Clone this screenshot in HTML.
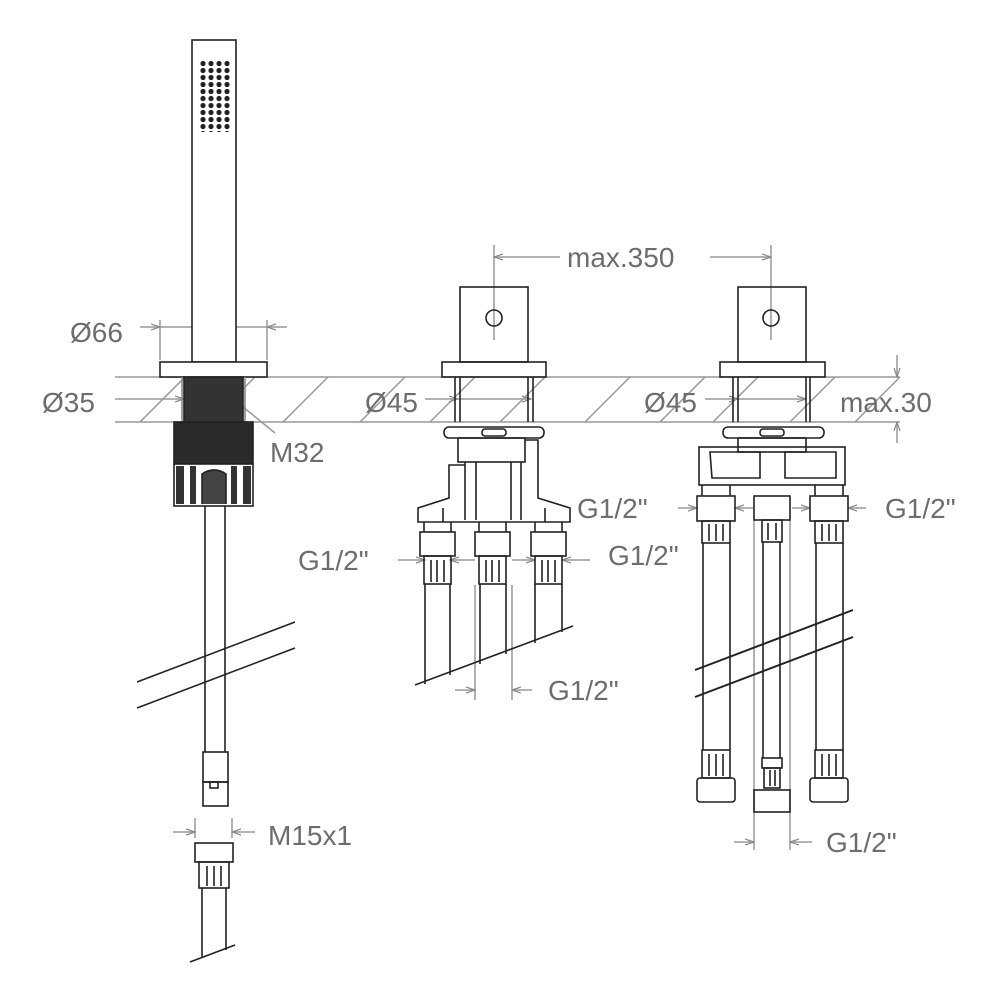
<!DOCTYPE html>
<html><head><meta charset="utf-8"><style>
html,body{margin:0;padding:0;background:#fff;}
svg{display:block;}
text{font-family:"Liberation Sans",sans-serif;font-size:28px;fill:#6d6d6d;}
</style></head><body>
<svg width="1000" height="1003" viewBox="0 0 1000 1003" xmlns="http://www.w3.org/2000/svg">
<defs>
<marker id="a" markerWidth="10" markerHeight="8" refX="9" refY="4" orient="auto" markerUnits="userSpaceOnUse"><path d="M0,1 L9,4 L0,7" fill="none" stroke="#888" stroke-width="1.2"/></marker>
<pattern id="dots" x="199" y="60" width="8" height="7" patternUnits="userSpaceOnUse"><circle cx="4" cy="3.5" r="2.6" fill="#222"/></pattern>
</defs>
<g stroke="#999" stroke-width="1.5" fill="none">
<line x1="115" y1="377" x2="900" y2="377"/>
<line x1="115" y1="422" x2="900" y2="422"/>
<line x1="140" y1="422" x2="185" y2="377"/>
<line x1="210" y1="422" x2="255" y2="377"/>
<line x1="283" y1="422" x2="328" y2="377"/>
<line x1="360" y1="422" x2="405" y2="377"/>
<line x1="430" y1="422" x2="475" y2="377"/>
<line x1="500" y1="422" x2="545" y2="377"/>
<line x1="585" y1="422" x2="630" y2="377"/>
<line x1="660" y1="422" x2="705" y2="377"/>
<line x1="713" y1="422" x2="758" y2="377"/>
<line x1="790" y1="422" x2="835" y2="377"/>
<line x1="855" y1="422" x2="900" y2="377"/>
<line x1="160" y1="320" x2="160" y2="360"/><line x1="267" y1="320" x2="267" y2="360"/>
<line x1="140" y1="327" x2="160" y2="327" marker-end="url(#a)"/><line x1="287" y1="327" x2="267" y2="327" marker-end="url(#a)"/>
<line x1="160" y1="327" x2="267" y2="327"/>
<line x1="115" y1="399" x2="184" y2="399" marker-end="url(#a)"/><line x1="243" y1="399" x2="184" y2="399"/>
<line x1="237" y1="402" x2="275" y2="433"/>
<line x1="425" y1="399" x2="458" y2="399" marker-end="url(#a)"/><line x1="458" y1="399" x2="531" y2="399" marker-end="url(#a)"/>
<line x1="705" y1="399" x2="738" y2="399" marker-end="url(#a)"/><line x1="738" y1="399" x2="806" y2="399" marker-end="url(#a)"/>
<line x1="494" y1="245" x2="494" y2="340"/><line x1="771" y1="245" x2="771" y2="340"/>
<line x1="560" y1="257" x2="494" y2="257" marker-end="url(#a)"/><line x1="710" y1="257" x2="771" y2="257" marker-end="url(#a)"/>
<line x1="897" y1="355" x2="897" y2="377" marker-end="url(#a)"/><line x1="897" y1="443" x2="897" y2="422" marker-end="url(#a)"/>
<line x1="398" y1="560" x2="425" y2="560" marker-end="url(#a)"/><line x1="475" y1="560" x2="450" y2="560" marker-end="url(#a)"/>
<line x1="512" y1="560" x2="535" y2="560" marker-end="url(#a)"/><line x1="590" y1="560" x2="562" y2="560" marker-end="url(#a)"/>
<line x1="475" y1="585" x2="475" y2="700"/><line x1="512" y1="585" x2="512" y2="700"/>
<line x1="455" y1="690" x2="475" y2="690" marker-end="url(#a)"/><line x1="532" y1="690" x2="512" y2="690" marker-end="url(#a)"/>
<line x1="678" y1="508" x2="697" y2="508" marker-end="url(#a)"/><line x1="753" y1="508" x2="735" y2="508" marker-end="url(#a)"/>
<line x1="792" y1="508" x2="810" y2="508" marker-end="url(#a)"/><line x1="866" y1="508" x2="848" y2="508" marker-end="url(#a)"/>
<line x1="754" y1="520" x2="754" y2="850"/><line x1="790" y1="520" x2="790" y2="850"/>
<line x1="734" y1="842" x2="754" y2="842" marker-end="url(#a)"/><line x1="812" y1="842" x2="790" y2="842" marker-end="url(#a)"/>
<line x1="195" y1="818" x2="195" y2="838"/><line x1="232" y1="818" x2="232" y2="838"/>
<line x1="173" y1="832" x2="195" y2="832" marker-end="url(#a)"/><line x1="255" y1="832" x2="232" y2="832" marker-end="url(#a)"/>
</g>
<g stroke="#222" stroke-width="1.6" fill="none">
<rect x="192" y="40" width="44" height="322" fill="#fff"/>
<rect x="199" y="60" width="32" height="72" fill="url(#dots)" stroke="none"/>
<rect x="160" y="362" width="107" height="15" fill="#fff"/>
<rect x="184" y="377" width="59" height="45" fill="#333"/>
<line x1="182" y1="377" x2="182" y2="422" stroke="#888"/><line x1="245" y1="377" x2="245" y2="422" stroke="#888"/>
<rect x="174" y="422" width="79" height="42" fill="#2a2a2a"/>
<rect x="174" y="464" width="79" height="42" fill="#fff"/>
<rect x="176" y="466" width="8" height="38" fill="#333" stroke="none"/>
<rect x="243" y="466" width="8" height="38" fill="#333" stroke="none"/>
<rect x="190" y="466" width="6" height="38" fill="#333" stroke="none"/>
<rect x="231" y="466" width="6" height="38" fill="#333" stroke="none"/>
<path d="M202,504 V474 Q214,466 226,474 V504" fill="#444"/>
<line x1="205" y1="506" x2="205" y2="752"/><line x1="225" y1="506" x2="225" y2="752"/>
<rect x="203" y="752" width="25" height="30"/><rect x="203" y="782" width="25" height="24"/>
<rect x="210" y="782" width="8" height="6"/>
<line x1="137" y1="682" x2="295" y2="622"/><line x1="137" y1="708" x2="295" y2="648"/>
<rect x="195" y="843" width="38" height="19"/>
<rect x="199" y="862" width="30" height="26"/>
<line x1="207" y1="866" x2="207" y2="886"/><line x1="214" y1="866" x2="214" y2="886"/><line x1="221" y1="866" x2="221" y2="886"/>
<line x1="202" y1="888" x2="202" y2="958"/><line x1="226" y1="888" x2="226" y2="950"/>
<line x1="190" y1="962" x2="235" y2="945"/>
<rect x="460" y="287" width="68" height="75"/>
<circle cx="494" cy="318" r="8"/>
<rect x="442" y="362" width="104" height="15"/>
<line x1="455" y1="377" x2="455" y2="422"/><line x1="460" y1="377" x2="460" y2="422"/>
<line x1="528" y1="377" x2="528" y2="422"/><line x1="533" y1="377" x2="533" y2="422"/>
<rect x="444" y="427" width="100" height="11" rx="5"/>
<rect x="482" y="429" width="24" height="7" rx="3"/>
<rect x="458" y="438" width="67" height="24"/>
<path d="M465,462 V520 M521,462 V520 M476,462 V520 M511,462 V520"/>
<path d="M465,465 H449 V498 L418,508 V522 H570 V508 L538,498 V440 H525"/>
<path d="M443,508 V522 M545,508 V522"/>
<g id="mf">
<rect x="420" y="532" width="35" height="24"/>
<rect x="424" y="556" width="27" height="28"/>
<line x1="431" y1="560" x2="431" y2="582"/><line x1="437" y1="560" x2="437" y2="582"/><line x1="444" y1="560" x2="444" y2="582"/>
<line x1="424" y1="522" x2="424" y2="532"/><line x1="451" y1="522" x2="451" y2="532"/>
</g>
<use href="#mf" x="55"/><use href="#mf" x="111"/>
<line x1="425" y1="584" x2="425" y2="684"/><line x1="450" y1="584" x2="450" y2="675"/>
<line x1="480" y1="584" x2="480" y2="664"/><line x1="506" y1="584" x2="506" y2="654"/>
<line x1="535" y1="584" x2="535" y2="643"/><line x1="562" y1="584" x2="562" y2="632"/>
<line x1="415" y1="685" x2="573" y2="626"/>
<rect x="738" y="287" width="68" height="75"/>
<circle cx="771" cy="318" r="8"/>
<rect x="720" y="362" width="105" height="15"/>
<line x1="733" y1="377" x2="733" y2="422"/><line x1="738" y1="377" x2="738" y2="422"/>
<line x1="806" y1="377" x2="806" y2="422"/><line x1="810" y1="377" x2="810" y2="422"/>
<rect x="723" y="427" width="101" height="11" rx="5"/>
<rect x="760" y="429" width="24" height="7" rx="3"/>
<rect x="738" y="438" width="68" height="14"/>
<rect x="699" y="447" width="146" height="38"/>
<path d="M710,452 H760 V478 H712 Z M785,452 H836 V478 H785 Z"/>
<g id="rf">
<rect x="697" y="496" width="38" height="25"/>
<rect x="702" y="521" width="28" height="22"/>
<line x1="709" y1="524" x2="709" y2="541"/><line x1="716" y1="524" x2="716" y2="541"/><line x1="723" y1="524" x2="723" y2="541"/>
<line x1="702" y1="485" x2="702" y2="496"/><line x1="730" y1="485" x2="730" y2="496"/>
</g>
<use href="#rf" x="113"/>
<rect x="754" y="496" width="36" height="24"/>
<rect x="762" y="520" width="20" height="22"/>
<line x1="768" y1="523" x2="768" y2="540"/><line x1="776" y1="523" x2="776" y2="540"/>
<line x1="703" y1="543" x2="703" y2="750"/><line x1="730" y1="543" x2="730" y2="750"/>
<line x1="816" y1="543" x2="816" y2="750"/><line x1="843" y1="543" x2="843" y2="750"/>
<line x1="763" y1="542" x2="763" y2="758"/><line x1="780" y1="542" x2="780" y2="758"/>
<line x1="695" y1="670" x2="853" y2="610" stroke-width="2"/><line x1="695" y1="697" x2="853" y2="637" stroke-width="2"/>
<g id="bf">
<rect x="702" y="750" width="28" height="28"/>
<line x1="709" y1="754" x2="709" y2="776"/><line x1="716" y1="754" x2="716" y2="776"/><line x1="723" y1="754" x2="723" y2="776"/>
<rect x="697" y="778" width="38" height="24" rx="3"/>
</g>
<use href="#bf" x="113"/>
<rect x="762" y="758" width="20" height="10"/>
<rect x="764" y="768" width="16" height="20"/>
<line x1="770" y1="770" x2="770" y2="786"/><line x1="775" y1="770" x2="775" y2="786"/>
<rect x="754" y="790" width="36" height="22"/>
</g>
<text x="70" y="342">Ø66</text>
<text x="42" y="412">Ø35</text>
<text x="270" y="462">M32</text>
<text x="365" y="412">Ø45</text>
<text x="644" y="412">Ø45</text>
<text x="840" y="412">max.30</text>
<text x="567" y="267">max.350</text>
<text x="577" y="518">G1/2"</text>
<text x="885" y="518">G1/2"</text>
<text x="298" y="570">G1/2"</text>
<text x="608" y="565">G1/2"</text>
<text x="548" y="700">G1/2"</text>
<text x="826" y="852">G1/2"</text>
<text x="268" y="845">M15x1</text>
</svg>
</body></html>
